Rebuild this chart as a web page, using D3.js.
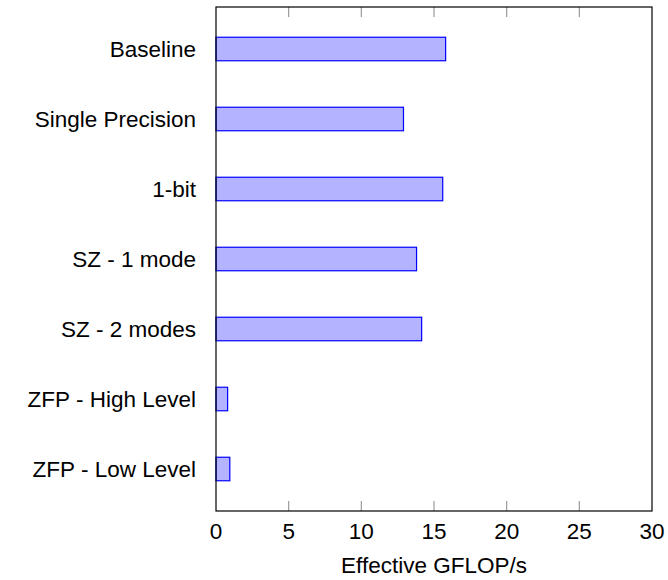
<!DOCTYPE html>
<html>
<head>
<meta charset="utf-8">
<script src="https://cdn.jsdelivr.net/npm/d3@7"></script>
<style>
  html, body { margin: 0; padding: 0; background: #fff; }
  svg { display: block; }
  text { font-family: "Liberation Sans", Arial, sans-serif; fill: #000; }
</style>
</head>
<body>
<svg id="chart" width="668" height="580"></svg>
<script>
// Benchmark variants, top to bottom
const categories = [
  "Baseline",
  "Single Precision",
  "1-bit",
  "SZ - 1 mode",
  "SZ - 2 modes",
  "ZFP - High Level",
  "ZFP - Low Level"
];
// Effective GFLOP/s per variant
const gflops = [15.8, 12.9, 15.6, 13.8, 14.15, 0.8, 0.95];
// Axis tick values
const xTicks = [0, 5, 10, 15, 20, 25, 30];
const xLabel = "Effective GFLOP/s";

const svg = d3.select("#chart");
const margin = { top: 7, right: 16, bottom: 69, left: 216 };
const W = 668, H = 580;
const x0 = margin.left, x1 = W - margin.right;
const y0 = margin.top, y1 = H - margin.bottom;
const fontSize = 22.5;

const x = d3.scaleLinear().domain([0, 30]).range([x0, x1]);
const y = d3.scalePoint().domain(categories).range([y0, y1]).padding(0.6);
const barH = 23.5;

// bars
svg.append("g").selectAll("rect")
  .data(categories)
  .join("rect")
  .attr("x", x(0))
  .attr("y", d => y(d) - barH / 2)
  .attr("width", (d, i) => x(gflops[i]) - x(0))
  .attr("height", barH)
  .attr("fill", "#b3b3ff")
  .attr("stroke", "#0000ff")
  .attr("stroke-width", 1.2);

// inward ticks on bottom and top
const tickLen = 10;
const tg = svg.append("g").attr("stroke", "#9a9a9a").attr("stroke-width", 1.2);
xTicks.forEach(t => {
  if (t === 0 || t === 30) return;
  tg.append("line").attr("x1", x(t)).attr("x2", x(t)).attr("y1", y1).attr("y2", y1 - tickLen);
  tg.append("line").attr("x1", x(t)).attr("x2", x(t)).attr("y1", y0).attr("y2", y0 + tickLen);
});

// frame
svg.append("rect")
  .attr("x", x0).attr("y", y0)
  .attr("width", x1 - x0).attr("height", y1 - y0)
  .attr("fill", "none").attr("stroke", "#000").attr("stroke-width", 1.2);

// x tick labels
svg.append("g").selectAll("text")
  .data(xTicks)
  .join("text")
  .attr("x", d => x(d))
  .attr("y", y1 + 20)
  .attr("text-anchor", "middle")
  .attr("dominant-baseline", "central")
  .attr("font-size", fontSize)
  .text(d => d);

// category labels
svg.append("g").selectAll("text")
  .data(categories)
  .join("text")
  .attr("x", x0 - 20)
  .attr("y", d => y(d))
  .attr("text-anchor", "end")
  .attr("dominant-baseline", "central")
  .attr("font-size", fontSize)
  .text(d => d);

// axis title
svg.append("text")
  .attr("x", (x0 + x1) / 2)
  .attr("y", y1 + 54)
  .attr("text-anchor", "middle")
  .attr("dominant-baseline", "central")
  .attr("font-size", fontSize)
  .text(xLabel);
</script>
</body>
</html>
